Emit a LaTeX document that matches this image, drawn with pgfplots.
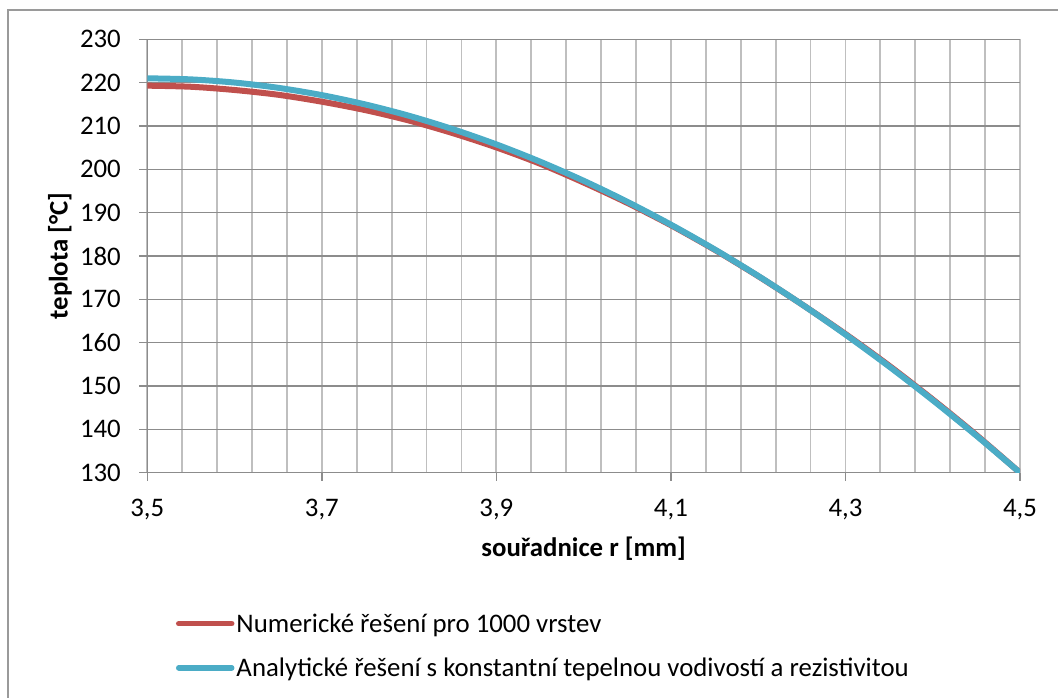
\documentclass[border=0pt]{standalone}
\usepackage{pgfplots}
\pgfplotsset{compat=1.18}
\usepackage{fontspec}
\setmainfont{Carlito}
\definecolor{cred}{HTML}{C0504D}
\definecolor{cblue}{HTML}{4BACC6}
\definecolor{hgrid}{HTML}{8C8C8C}
\definecolor{vgrid}{HTML}{BFBFBF}
\definecolor{frame}{HTML}{9A9A9A}
\newcommand\f{\fontsize{26.8}{32}\selectfont}
\begin{document}
\begin{tikzpicture}[font=\f]
\path[use as bounding box] (-147.3pt,-224.3pt) rectangle (910.7pt,472.7pt);
\draw[frame, line width=1.8pt] (-139pt,-400pt) -- (-139pt,462.7pt) -- (1000pt,462.7pt);
\begin{axis}[
  at={(0pt,0pt)}, anchor=origin,
  scale only axis, width=872.7pt, height=433.4pt,
  xmin=3.5, xmax=4.5, ymin=130, ymax=230,
  xtick={3.5,3.7,3.9,4.1,4.3,4.5},
  minor x tick num=4,
  ytick={130,140,...,230},
  axis lines=left,
  axis line style={-, draw=hgrid, line width=1.5pt},
  tick align=outside,
  major tick length=8pt, minor tick length=0pt,
  every tick/.style={draw=hgrid, line width=1.5pt},
  ymajorgrids, xmajorgrids, xminorgrids,
  y grid style={draw=hgrid, line width=1.5pt},
  x grid style={draw=vgrid, line width=1.8pt},
  minor x grid style={draw=vgrid, line width=1.8pt},
  /pgf/number format/assume math mode=true,
  /pgf/number format/use comma,
  xticklabel style={/pgf/number format/fixed, /pgf/number format/fixed zerofill, /pgf/number format/precision=1, font=\f, yshift=-15pt},
  yticklabel style={font=\f, xshift=-15pt},
  xlabel={\textbf{souřadnice r [mm]}},
  ylabel={\textbf{teplota [°C]}},
  xlabel style={at={(axis description cs:0.5,-0.176)}, anchor=center},
  ylabel style={at={(axis description cs:-0.100,0.5)}, anchor=center},
  legend cell align=left,
  legend style={at={(axis description cs:0.0292,-0.3154)}, anchor=north west, draw=none, fill=none, font=\f, row sep=20pt, nodes={inner xsep=2pt}},
  legend image code/.code={\draw[#1, line width=5.5pt, line cap=round] (0pt,0pt) -- (53pt,0pt);},
]
\addplot[cred, line width=6pt, smooth, tension=0.5] coordinates {
(3.50,219.3) (3.55,219.05) (3.60,218.3) (3.65,217.2) (3.70,215.6)
(3.75,213.65) (3.80,211.25) (3.85,208.35) (3.90,205.05) (3.95,201.3)
(4.00,196.95) (4.05,192.25) (4.10,187.1) (4.15,181.45) (4.20,175.35)
(4.25,168.85) (4.30,162.0) (4.35,154.7) (4.40,146.9) (4.45,138.7) (4.50,130.0)
};
\addlegendentry{Numerické řešení pro 1000 vrstev}
\addplot[cblue, line width=6pt, smooth, tension=0.5] coordinates {
(3.50,221.0) (3.55,220.75) (3.60,220.02) (3.65,218.81) (3.70,217.12)
(3.75,214.96) (3.80,212.35) (3.85,209.27) (3.90,205.75) (3.95,201.78)
(4.00,197.36) (4.05,192.51) (4.10,187.23) (4.15,181.53) (4.20,175.40)
(4.25,168.85) (4.30,161.88) (4.35,154.51) (4.40,146.73) (4.45,138.55) (4.50,130.0)
};
\addlegendentry{Analytické řešení s konstantní tepelnou vodivostí a rezistivitou}
\end{axis}
\end{tikzpicture}
\end{document}
